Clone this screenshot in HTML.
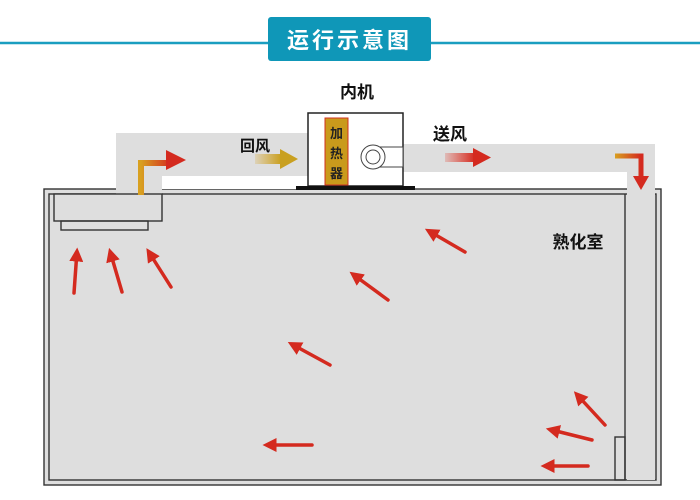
<!DOCTYPE html>
<html><head><meta charset="utf-8"><style>
body{margin:0;background:#fff;}
svg{display:block}
text{font-family:"Liberation Sans","Noto Sans CJK SC",sans-serif;font-weight:bold;}
</style></head><body>
<svg width="700" height="500" viewBox="0 0 700 500" xmlns="http://www.w3.org/2000/svg">
<defs>
<marker id="ah" markerWidth="4" markerHeight="4" refX="1" refY="2" orient="auto" markerUnits="strokeWidth">
<path d="M0,0 L4,2 L0,4 z" fill="#d42a1f"/></marker>
<linearGradient id="gy" x1="0" x2="1"><stop offset="0" stop-color="#d4a020" stop-opacity="0.2"/><stop offset="1" stop-color="#c9a020"/></linearGradient>
<linearGradient id="gr" x1="0" x2="1"><stop offset="0" stop-color="#e03020" stop-opacity="0.2"/><stop offset="1" stop-color="#d42a1f"/></linearGradient>
<linearGradient id="gor" x1="0" x2="1"><stop offset="0" stop-color="#d8a020"/><stop offset="1" stop-color="#d42a1f"/></linearGradient>
</defs>
<line x1="0" y1="43" x2="700" y2="43" stroke="#1a9ec0" stroke-width="2.5"/>
<rect x="268" y="17" width="163" height="44" rx="3" fill="#0f97b8"/>
<text x="349.5" y="48" font-size="22" fill="#fff" text-anchor="middle" letter-spacing="3">运行示意图</text>
<rect x="44" y="189" width="617" height="296" fill="#dedede" stroke="#333" stroke-width="1.4"/>
<rect x="49" y="194" width="607" height="286" fill="none" stroke="#333" stroke-width="1.4"/>
<path d="M116,133 H308 V176 H162 V221 H54 V194 H116 Z" fill="#dedede"/>
<rect x="54" y="194" width="108" height="27" fill="none" stroke="#333" stroke-width="1.4"/>
<rect x="61" y="221" width="87" height="9" fill="none" stroke="#333" stroke-width="1.4"/>
<rect x="162" y="176" width="146" height="13" fill="#fff"/>
<path d="M403,144 H655 V480 H627 V172 H403 Z" fill="#dedede"/>
<line x1="625" y1="194" x2="625" y2="480" stroke="#333" stroke-width="1.4"/>
<rect x="615" y="437" width="10" height="43" fill="none" stroke="#333" stroke-width="1.4"/>
<rect x="308" y="113" width="95" height="73" fill="#fff" stroke="#222" stroke-width="1.5"/>
<rect x="296" y="186" width="119" height="4" fill="#111"/>
<rect x="325" y="118" width="23" height="67" fill="#c99a1c" stroke="#d03020" stroke-width="1"/>
<text x="336.5" y="138" font-size="13" text-anchor="middle" fill="#222">加</text>
<text x="336.5" y="158" font-size="13" text-anchor="middle" fill="#222">热</text>
<text x="336.5" y="178" font-size="13" text-anchor="middle" fill="#222">器</text>
<rect x="375" y="147" width="28" height="20" fill="#fff" stroke="#444" stroke-width="1"/>
<circle cx="373" cy="157" r="12" fill="#fff" stroke="#444" stroke-width="1"/>
<circle cx="373" cy="157" r="7" fill="#fff" stroke="#444" stroke-width="1"/>
<text x="357" y="98" font-size="17" text-anchor="middle" fill="#111">内机</text>
<text x="255" y="151" font-size="15" text-anchor="middle" fill="#111">回风</text>
<text x="450" y="140" font-size="17" text-anchor="middle" fill="#111">送风</text>
<text x="578" y="248" font-size="17" text-anchor="middle" fill="#111">熟化室</text>
<path d="M141,195 V163 H172" fill="none" stroke="url(#gor)" stroke-width="6"/>
<path d="M166,150 L186,160 L166,170 Z" fill="#d42a1f"/>
<rect x="255" y="154" width="26" height="10" fill="url(#gy)"/>
<path d="M280,149 L298,159 L280,169 Z" fill="#c9a020"/>
<rect x="445" y="153" width="30" height="9" fill="url(#gr)"/>
<path d="M473,148 L491,157.5 L473,167 Z" fill="#d42a1f"/>
<path d="M615,156 H641 V178" fill="none" stroke="url(#gor)" stroke-width="5"/>
<path d="M633,176 L641,190 L649,176 Z" fill="#d42a1f"/>
<g stroke="#d42a1f" stroke-width="3.5" fill="none" marker-end="url(#ah)" stroke-linecap="round">
<line x1="74" y1="293" x2="76.5" y2="258"/>
<line x1="122" y1="292" x2="112" y2="258"/>
<line x1="171" y1="287" x2="152" y2="257"/>
<line x1="388" y1="300" x2="358" y2="278"/>
<line x1="330" y1="365" x2="297" y2="347"/>
<line x1="312" y1="445" x2="273" y2="445"/>
<line x1="465" y1="252" x2="434" y2="234"/>
<line x1="605" y1="425" x2="581" y2="399"/>
<line x1="592" y1="440" x2="556" y2="431"/>
<line x1="588" y1="466" x2="551" y2="466"/>
</g>
</svg>
</body></html>
